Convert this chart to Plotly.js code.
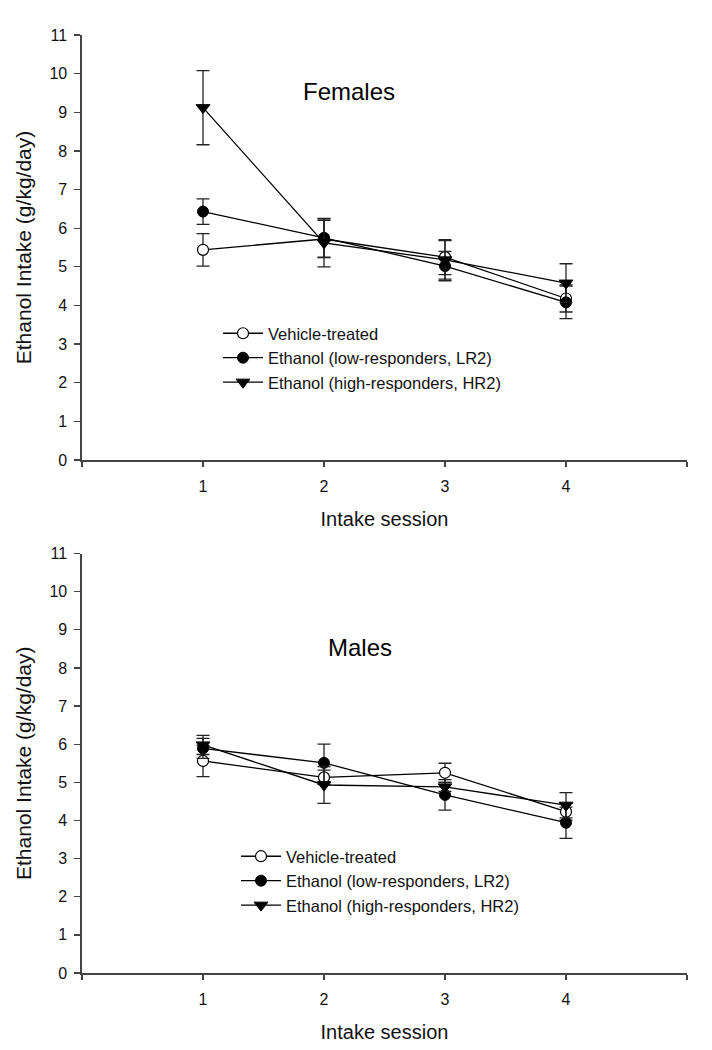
<!DOCTYPE html>
<html><head><meta charset="utf-8">
<script src="https://cdn.plot.ly/plotly-3.0.1.min.js"></script>
<style>body{margin:0;background:#fff}</style>
</head><body><div id="chart" style="width:712px;height:1050px"></div>
<script>
const sessions = [1, 2, 3, 4];
const seriesNames = ['Vehicle-treated', 'Ethanol (low-responders, LR2)', 'Ethanol (high-responders, HR2)'];
const xTickVals = [0, 1, 2, 3, 4, 5];
const xTickText = ['', '1', '2', '3', '4', ''];

const femVehicle = [5.44, 5.72, 5.25, 4.18];
const femVehicleErr = [0.42, 0.48, 0.45, 0.35];
const femLR2 = [6.43, 5.75, 5.02, 4.08];
const femLR2Err = [0.33, 0.50, 0.38, 0.42];
const femHR2 = [9.12, 5.62, 5.18, 4.58];
const femHR2Err = [0.96, 0.62, 0.50, 0.50];

const maleVehicle = [5.56, 5.13, 5.25, 4.23];
const maleVehicleErr = [0.41, 0.19, 0.25, 0.22];
const maleLR2 = [5.89, 5.51, 4.67, 3.94];
const maleLR2Err = [0.26, 0.49, 0.40, 0.41];
const maleHR2 = [5.98, 4.93, 4.88, 4.40];
const maleHR2Err = [0.25, 0.48, 0.12, 0.33];

const FONT = 'Arial, "Liberation Sans", sans-serif';
const markerStyles = [
  {symbol: 'circle', size: 11, color: '#ffffff', line: {color: '#000', width: 1.2}},
  {symbol: 'circle', size: 11, color: '#000000', line: {color: '#000', width: 1}},
  {symbol: 'triangle-down', size: 12, color: '#000000', line: {color: '#000', width: 1}}
];

function mk(y, err, idx, xa, ya, legend) {
  return {
    x: sessions, y: y, name: seriesNames[idx], type: 'scatter', mode: 'lines+markers',
    xaxis: xa, yaxis: ya, legend: legend,
    line: {color: '#000', width: 1.3},
    marker: markerStyles[idx],
    error_y: {type: 'data', array: err, visible: true, color: '#222', thickness: 1.3, width: 6.5}
  };
}

const data = [
  mk(femVehicle, femVehicleErr, 0, 'x', 'y', 'legend'),
  mk(femLR2, femLR2Err, 1, 'x', 'y', 'legend'),
  mk(femHR2, femHR2Err, 2, 'x', 'y', 'legend'),
  mk(maleVehicle, maleVehicleErr, 0, 'x2', 'y2', 'legend2'),
  mk(maleLR2, maleLR2Err, 1, 'x2', 'y2', 'legend2'),
  mk(maleHR2, maleHR2Err, 2, 'x2', 'y2', 'legend2')
];

function xax(anchor) {
  return {
    anchor: anchor, range: [0, 5], tickvals: xTickVals, ticktext: xTickText,
    ticks: 'outside', ticklen: 5, tickwidth: 1.3, tickcolor: '#444',
    showline: true, linecolor: '#444', linewidth: 1.6, showgrid: false, zeroline: false,
    tickfont: {family: FONT, size: 16, color: '#111'},
    ticklabelstandoff: 6,
    title: {text: 'Intake session', font: {family: FONT, size: 20, color: '#111'}, standoff: 18}
  };
}
function yax(anchor, domain) {
  return {
    anchor: anchor, domain: domain, range: [0, 11], dtick: 1, tick0: 0,
    ticks: 'outside', ticklen: 6, tickwidth: 1.3, tickcolor: '#444',
    showline: true, linecolor: '#444', linewidth: 1.6, showgrid: false, zeroline: false,
    tickfont: {family: FONT, size: 16, color: '#111'},
    ticklabelstandoff: 4,
    title: {text: 'Ethanol Intake (g/kg/day)', font: {family: FONT, size: 21, color: '#111'}, standoff: 12}
  };
}

const layout = {
  width: 712, height: 1050,
  margin: {l: 82, r: 25, t: 0, b: 0},
  paper_bgcolor: '#fff', plot_bgcolor: '#fff',
  font: {family: FONT, color: '#111'},
  showlegend: true,
  xaxis: xax('y'),
  yaxis: yax('x', [1 - 460 / 1050, 1 - 35 / 1050]),
  xaxis2: xax('y2'),
  yaxis2: yax('x2', [1 - 973 / 1050, 1 - 553.5 / 1050]),
  legend: {x: (218 - 82) / 605, y: 1 - 316 / 1050, xanchor: 'left', yanchor: 'top', bgcolor: 'rgba(0,0,0,0)',
           itemwidth: 40, font: {family: FONT, size: 16.5, color: '#111'}, tracegroupgap: 0},
  legend2: {x: (236 - 82) / 605, y: 1 - 839 / 1050, xanchor: 'left', yanchor: 'top', bgcolor: 'rgba(0,0,0,0)',
            itemwidth: 40, font: {family: FONT, size: 16.5, color: '#111'}, tracegroupgap: 0},
  annotations: [
    {text: 'Females', xref: 'paper', yref: 'paper', x: (349 - 82) / 605, y: 1 - 92 / 1050,
     xanchor: 'center', yanchor: 'middle',
     showarrow: false, font: {family: FONT, size: 24, color: '#000'}},
    {text: 'Males', xref: 'paper', yref: 'paper', x: (360 - 82) / 605, y: 1 - 647 / 1050,
     xanchor: 'center', yanchor: 'middle',
     showarrow: false, font: {family: FONT, size: 24, color: '#000'}}
  ]
};

Plotly.newPlot('chart', data, layout, {displayModeBar: false, staticPlot: true});
</script></body></html>
